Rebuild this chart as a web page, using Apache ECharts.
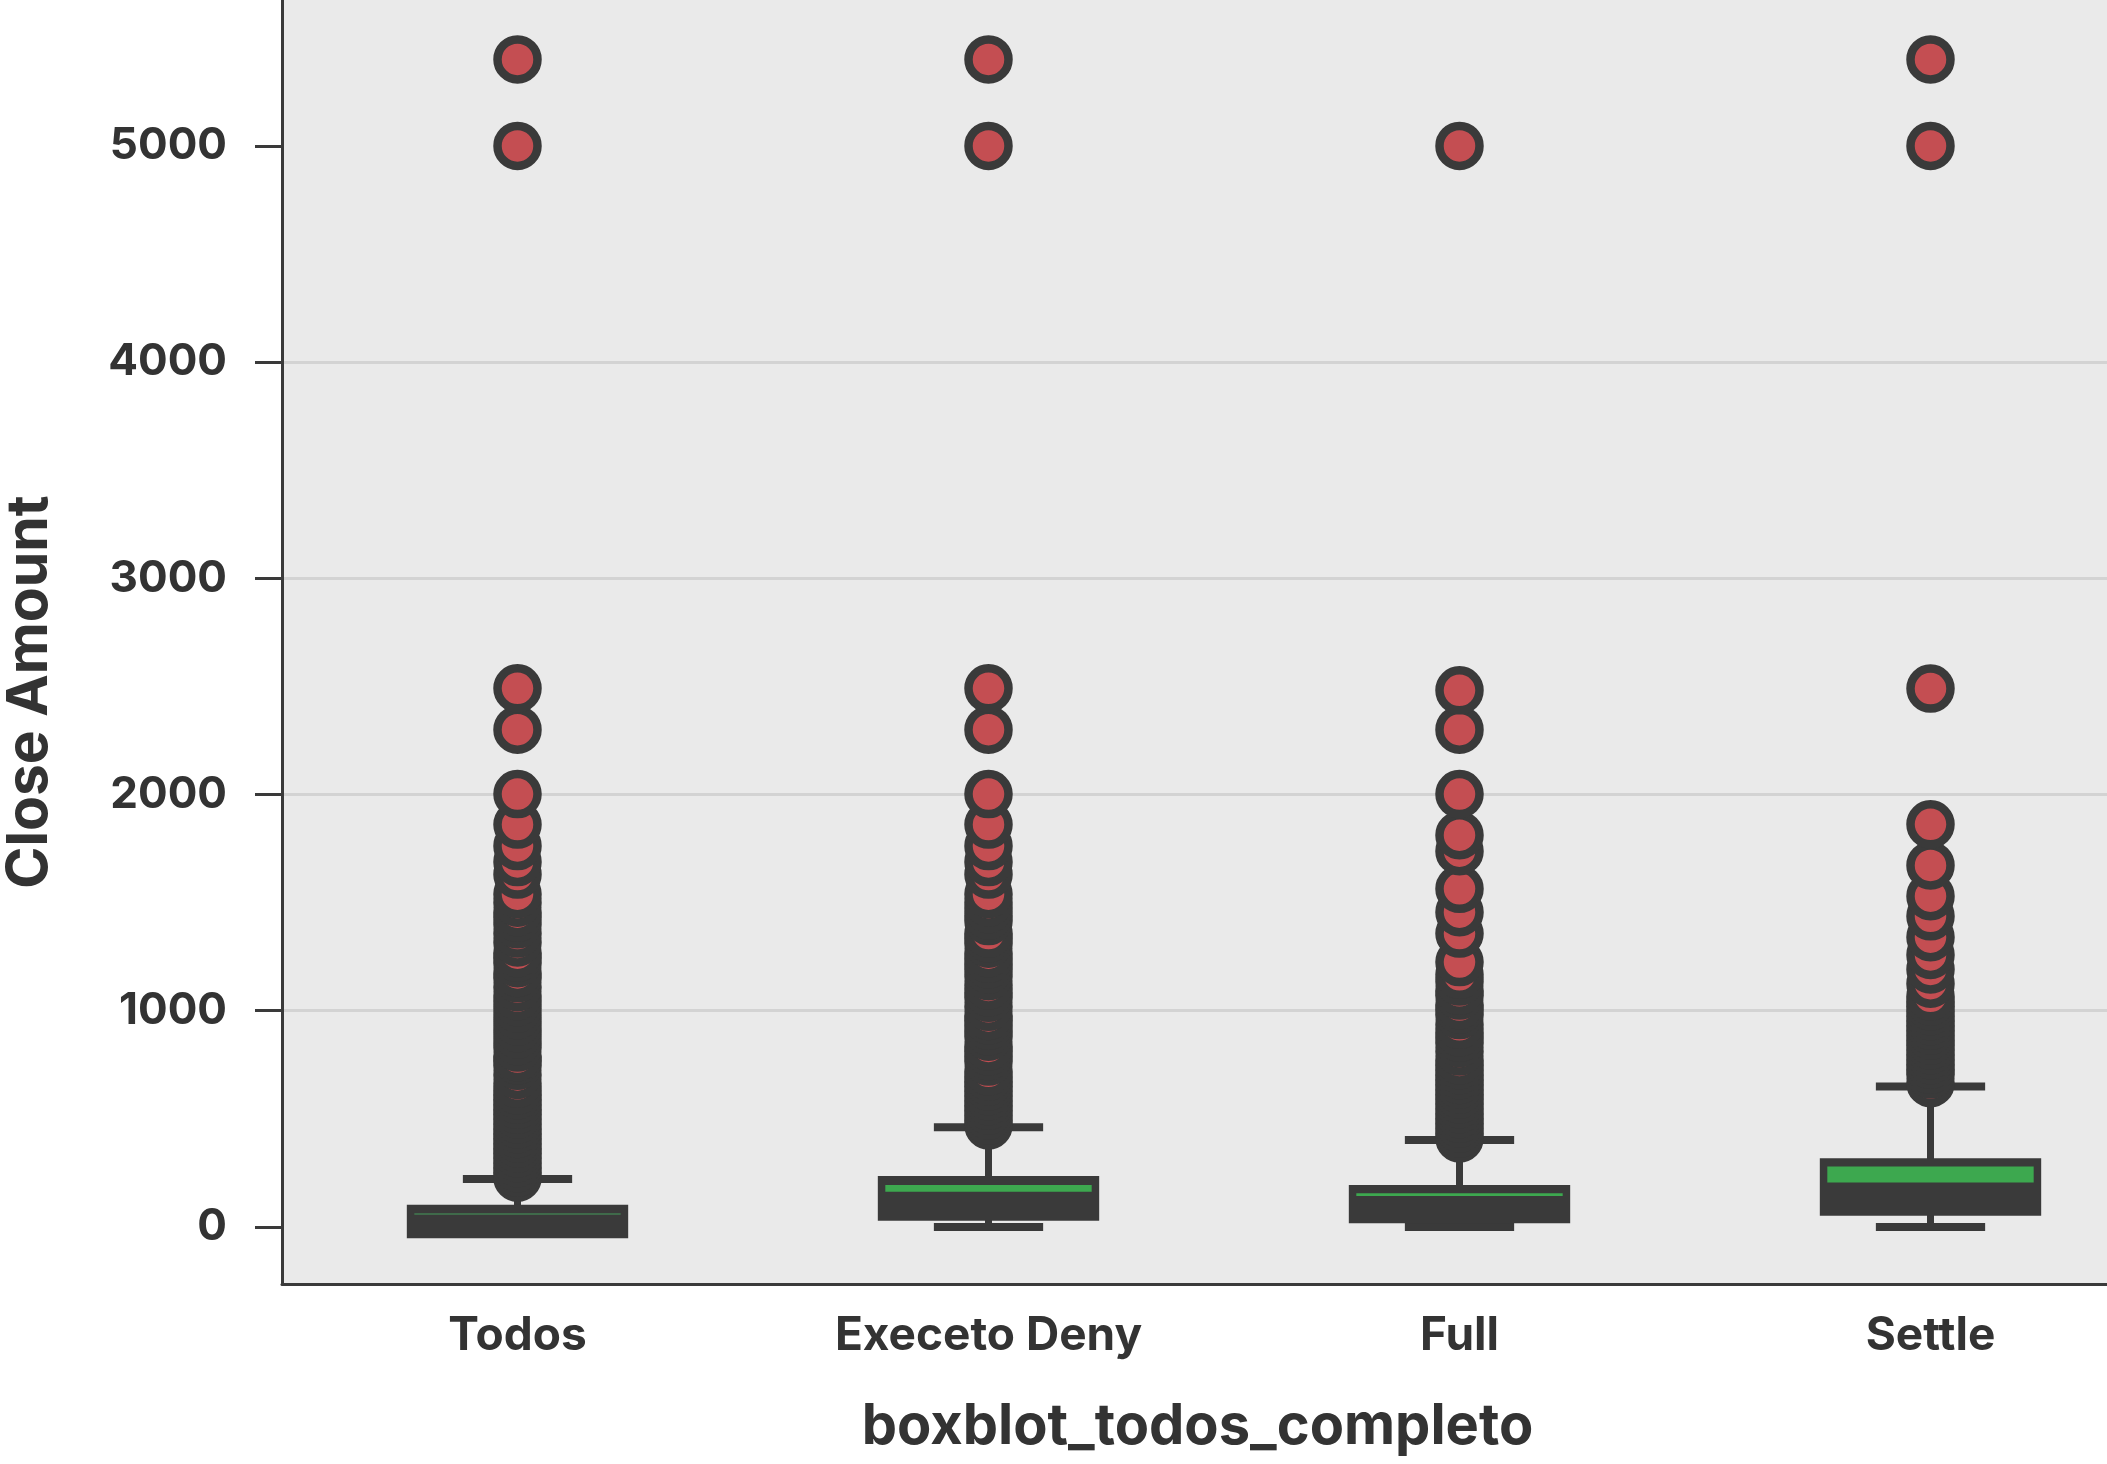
<!DOCTYPE html>
<html>
<head>
<meta charset="utf-8">
<title>boxblot_todos_completo</title>
<script src="https://cdn.jsdelivr.net/npm/echarts@6/dist/echarts.min.js"></script>
<style>
  html, body { margin: 0; padding: 0; background: #fff; }
  #main { width: 2107px; height: 1464px; }
</style>
</head>
<body>
<div id="main"></div>
<script>
var categories = ['Todos', 'Execeto Deny', 'Full', 'Settle'];

// caixa (bordas grossas incluídas), bigodes e faixa verde da mediana
var boxLow = [-52, 28, 17, 52];
var boxHigh = [102, 236, 194, 318];
var whiskerLow = [0, 0, 0, 0];
var whiskerHigh = [222, 461, 402, 650];
var medianLow = [62, 163, 143, 205];
var medianHigh = [64, 194, 156, 279];

// outliers
var outTodos = [228, 250, 272, 295, 318, 340, 362, 385, 408, 430, 452, 475, 498, 520, 542, 565, 588, 610, 632, 662, 703, 745, 770, 786, 830, 860, 890, 920, 950, 980, 1010, 1040, 1068, 1109, 1150, 1175, 1220, 1245, 1266, 1316, 1357, 1400, 1430, 1456, 1500, 1539, 1630, 1688, 1762, 1861, 2002, 2300, 2491, 5000, 5400];
var outExeceto = [470, 492, 515, 538, 560, 582, 605, 628, 650, 672, 695, 720, 765, 790, 812, 835, 880, 905, 930, 955, 976, 1018, 1060, 1085, 1117, 1160, 1190, 1215, 1240, 1266, 1310, 1335, 1357, 1415, 1440, 1470, 1500, 1539, 1630, 1688, 1762, 1861, 2002, 2300, 2491, 5000, 5400];
var outFull = [410, 432, 455, 478, 500, 522, 545, 568, 590, 612, 635, 658, 680, 702, 725, 748, 770, 811, 850, 875, 900, 935, 980, 1005, 1026, 1070, 1092, 1135, 1166, 1225, 1357, 1456, 1564, 1738, 1812, 2002, 2300, 2482, 5000];
var outSettle = [665, 705, 727, 750, 772, 795, 818, 840, 862, 885, 908, 930, 952, 975, 998, 1020, 1042, 1067, 1125, 1191, 1258, 1340, 1437, 1530, 1672, 1862, 2490, 5000, 5400];

var yTicks = [0, 1000, 2000, 3000, 4000, 5000];

var dark = '#3a3a3a';
var green = '#3da84f';
var red = '#c44e52';
var font = 'Inter';

var myChart = echarts.init(document.getElementById('main'));

var boxData = categories.map(function (c, i) {
    return [i, boxLow[i], boxHigh[i], whiskerLow[i], whiskerHigh[i], medianLow[i], medianHigh[i]];
});

var outliers = [outTodos, outExeceto, outFull, outSettle];
var outData = [];
outliers.forEach(function (list, i) {
    list.forEach(function (v) { outData.push([i, v]); });
});

function renderBox(params, api) {
    var c = api.value(0);
    var x = api.coord([c, 0])[0];
    var y = function (v) { return api.coord([c, v])[1]; };
    var band = api.size([1, 0])[0];
    var bw = band * 0.47;
    var cw = band * 0.232;
    var inset = 7.5;
    var b1 = y(api.value(1)), b3 = y(api.value(2));
    var wl = y(api.value(3)), wh = y(api.value(4));
    var g1 = y(api.value(5)), g3 = y(api.value(6));
    var gh = Math.max(g1 - g3, 2);
    return {
        type: 'group',
        children: [
            { type: 'line', shape: { x1: x, y1: wl, x2: x, y2: wh }, style: { stroke: dark, lineWidth: 7 } },
            { type: 'line', shape: { x1: x - cw / 2, y1: wl, x2: x + cw / 2, y2: wl }, style: { stroke: dark, lineWidth: 8 } },
            { type: 'line', shape: { x1: x - cw / 2, y1: wh, x2: x + cw / 2, y2: wh }, style: { stroke: dark, lineWidth: 8 } },
            { type: 'rect', shape: { x: x - bw / 2, y: b3, width: bw, height: b1 - b3 }, style: { fill: dark } },
            { type: 'rect', shape: { x: x - bw / 2 + inset, y: g3, width: bw - 2 * inset, height: gh },
              style: { fill: gh <= 2 ? '#3f6a4a' : green } }
        ]
    };
}

var option = {
    animation: false,
    grid: {
        left: 282,
        top: 0,
        width: 1884,
        bottom: 180,
        containLabel: false,
        outerBoundsMode: 'none',
        show: true,
        backgroundColor: '#eaeaea',
        borderWidth: 0
    },
    xAxis: {
        type: 'category',
        data: categories,
        name: 'boxblot_todos_completo',
        nameLocation: 'middle',
        nameGap: 115,
        nameTextStyle: { fontFamily: font, fontWeight: 'bold', fontSize: 56, color: '#333', padding: [0, 53, 0, 0] },
        axisLine: { onZero: false, lineStyle: { color: dark, width: 3 } },
        axisTick: { alignWithLabel: true, length: 18, lineStyle: { color: dark, width: 2.5 } },
        axisLabel: { fontFamily: font, fontWeight: 'bold', fontSize: 46, color: '#333', margin: 29 },
        splitLine: { show: false }
    },
    yAxis: {
        type: 'value',
        min: -264,
        max: 5675,
        name: 'Close Amount',
        nameLocation: 'middle',
        nameGap: 224,
        nameTextStyle: { fontFamily: font, fontWeight: 'bold', fontSize: 57, color: '#333', padding: [0, 100, 0, 0] },
        axisLine: { show: true, lineStyle: { color: dark, width: 3 } },
        axisTick: { show: true, length: 27, customValues: yTicks, lineStyle: { color: dark, width: 3 } },
        axisLabel: {
            customValues: yTicks,
            fontFamily: font, fontWeight: 'bold', fontSize: 44, color: '#333', margin: 55,
            formatter: function (v) { return String(v); }
        },
        splitLine: { show: true, showMinLine: false, showMaxLine: false, lineStyle: { color: '#d3d3d3', width: 3 } }
    },
    series: [{
        type: 'custom',
        renderItem: renderBox,
        data: boxData,
        encode: { x: 0, y: [1, 2, 3, 4] },
        z: 2
    }, {
        type: 'scatter',
        data: outData,
        symbol: 'circle',
        symbolSize: 40,
        itemStyle: { color: red, borderColor: dark, borderWidth: 8.5, opacity: 1 },
        z: 3
    }]
};

myChart.setOption(option);
</script>
</body>
</html>
